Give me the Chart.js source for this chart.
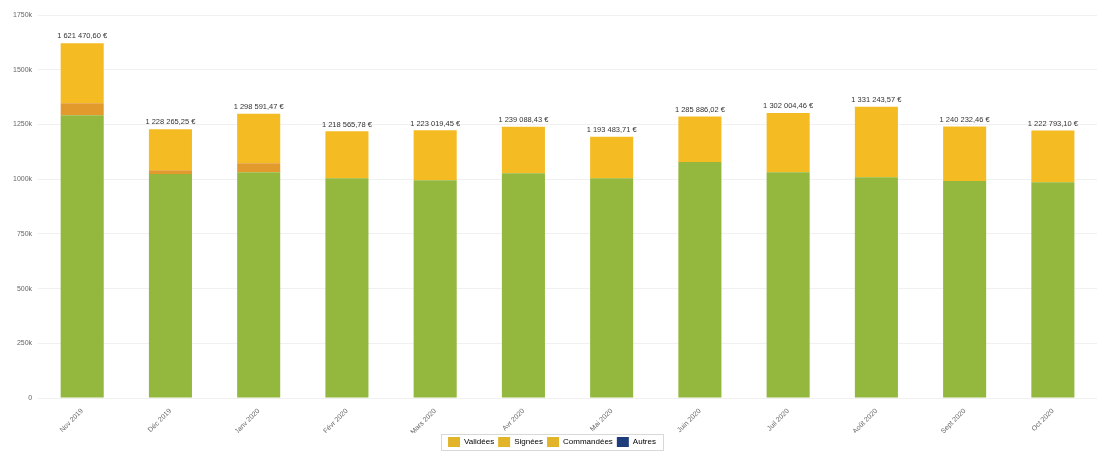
<!DOCTYPE html>
<html>
<head>
<meta charset="utf-8">
<script src="https://cdn.jsdelivr.net/npm/chart.js@4/dist/chart.umd.min.js"></script>
<style>
html,body{margin:0;padding:0;background:#fff;}
#wrap{width:1097px;height:457px;position:relative;}
</style>
</head>
<body>
<div id="wrap"><canvas id="c" width="1097" height="457"></canvas></div>
<script>
const categories = ["Nov 2019","Déc 2019","Janv 2020","Févr 2020","Mars 2020","Avr 2020","Mai 2020","Juin 2020","Juil 2020","Août 2020","Sept 2020","Oct 2020"];
const validees  = [1292000, 1023000, 1032000, 1004600, 995000, 1027000, 1004600, 1078000, 1032000, 1009000, 991000, 986000];
const signees   = [55000, 18000, 41000, 0, 0, 0, 0, 0, 0, 0, 0, 0];
const commandees= [274470.60, 187265.25, 225591.47, 213965.78, 228019.45, 212088.43, 188883.71, 207886.02, 270004.46, 322243.57, 249232.46, 236793.10];
const autres    = [0,0,0,0,0,0,0,0,0,0,0,0];
const yTicks = ["0","250k","500k","750k","1000k","1250k","1500k","1750k"];
const legendNames = ["Validées","Signées","Commandées","Autres"];

const fmt = v => {
  const s = v.toFixed(2).split(".");
  return s[0].replace(/\B(?=(\d{3})+(?!\d))/g, " ") + "," + s[1] + " €";
};

const totalsPlugin = {
  id: 'totals',
  afterDatasetsDraw(chart) {
    const ctx = chart.ctx;
    const y = chart.scales.y;
    const meta = chart.getDatasetMeta(0);
    ctx.save();
    ctx.font = "7.5px 'Liberation Sans', Arial, sans-serif";
    ctx.fillStyle = "#333";
    ctx.textAlign = "center";
    ctx.textBaseline = "bottom";
    categories.forEach((c, i) => {
      const t = validees[i] + signees[i] + commandees[i] + autres[i];
      const x = meta.data[i].x;
      ctx.fillText(fmt(t), x, y.getPixelForValue(t) - 3);
    });
    ctx.restore();
  }
};

const legendBox = {
  id: 'legendBox',
  afterDraw(chart) {
    const hb = chart.legend.legendHitBoxes;
    if (!hb || !hb.length) return;
    const l = Math.min(...hb.map(h => h.left)) - 7;
    const r = Math.max(...hb.map(h => h.left + h.width)) + 7;
    const t = Math.min(...hb.map(h => h.top)) - 3;
    const b = Math.max(...hb.map(h => h.top + h.height)) + 3;
    const ctx = chart.ctx;
    ctx.save();
    ctx.strokeStyle = "#d8d8d8";
    ctx.lineWidth = 1;
    ctx.strokeRect(Math.round(l) + 0.5, Math.round(t) + 0.5, Math.round(r - l), Math.round(b - t));
    ctx.restore();
  }
};

new Chart(document.getElementById('c'), {
  type: 'bar',
  data: {
    labels: categories,
    datasets: [
      {label: legendNames[0], data: validees, backgroundColor: '#93b83d'},
      {label: legendNames[1], data: signees, backgroundColor: '#e39a2d'},
      {label: legendNames[2], data: commandees, backgroundColor: '#f4bb22'},
      {label: legendNames[3], data: autres, backgroundColor: '#1f3d7a'}
    ]
  },
  options: {
    responsive: false,
    animation: false,
    layout: {padding: {left: 7, right: 0, top: 15, bottom: 0}},
    datasets: {bar: {categoryPercentage: 0.8, barPercentage: 0.61}},
    scales: {
      x: {
        stacked: true,
        grid: {display: false},
        border: {display: false},
        afterFit: s => { s.height = 35; },
        ticks: {
          maxRotation: 45, minRotation: 45, autoSkip: false,
          font: {size: 7, family: "'Liberation Sans', Arial, sans-serif"},
          color: '#666', padding: 1
        }
      },
      y: {
        stacked: true,
        min: 0, max: 1750000,
        grid: {color: '#f0f0f0', drawTicks: false},
        border: {display: false},
        ticks: {
          stepSize: 250000,
          padding: 6,
          font: {size: 7, family: "'Liberation Sans', Arial, sans-serif"},
          color: '#666',
          callback: (v, i) => yTicks[i]
        }
      }
    },
    plugins: {
      tooltip: {enabled: false},
      legend: {
        position: 'bottom',
        labels: {
          boxWidth: 12, boxHeight: 10, padding: 4,
          font: {size: 8, family: "'Liberation Sans', Arial, sans-serif"},
          color: '#555',
          generateLabels: chart => legendNames.map((n, i) => ({
            text: n,
            fillStyle: i < 3 ? '#e2b42a' : '#1f3d7a',
            strokeStyle: 'transparent',
            lineWidth: 0,
            datasetIndex: i
          }))
        }
      }
    }
  },
  plugins: [totalsPlugin, legendBox]
});
</script>
</body>
</html>
